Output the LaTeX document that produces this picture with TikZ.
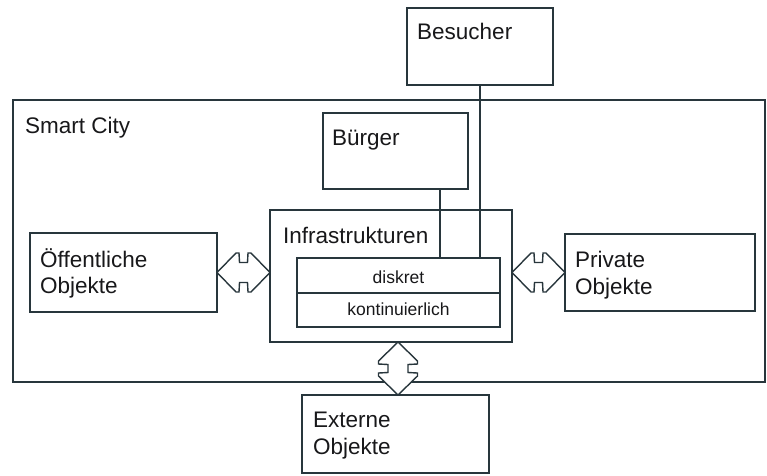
\documentclass[tikz,border=0pt]{standalone}
\usepackage{fontspec}
\setmainfont{Liberation Sans}
\usetikzlibrary{calc}
\definecolor{ink}{RGB}{40,54,60}
\definecolor{txt}{RGB}{24,24,26}
\tikzset{
  box/.style={draw=ink, line width=2pt, fill=white, inner sep=0pt, outer sep=0pt},
  bigtext/.style={text=txt, inner sep=0pt, anchor=base west, font=\fontsize{22.5}{26}\selectfont},
  smalltext/.style={text=txt, inner sep=0pt, anchor=base, font=\fontsize{17.5}{20}\selectfont},
  link/.style={draw=ink, line width=1.6pt},
  arrowbox/.style={draw=ink, line width=1.4pt, fill=white, line join=miter},
}
% double-headed block arrow: start point, direction angle, length
\newcommand\blockarrow[3]{%
  \draw[arrowbox, shift={#1}, rotate=#2]
    (0,0) -- (19,-19.5) -- (22,-19.5) -- (22.5,-10) -- (#3-22.5,-10)
    -- (#3-22,-19.5) -- (#3-19,-19.5) -- (#3,0) -- (#3-19,19.5)
    -- (#3-22,19.5) -- (#3-22.5,10) -- (22.5,10) -- (22,19.5) -- (19,19.5) -- cycle;}
\begin{document}
\begin{tikzpicture}[x=1pt,y=-1pt]
\useasboundingbox (0,0) rectangle (767,475);

% boxes
\node[box, minimum width=146pt, minimum height=77pt] (besucher) at (480,46.5) {};
\node[box, minimum width=752pt, minimum height=282pt] (city) at (389,241) {};
\node[box, minimum width=145pt, minimum height=76pt] (buerger) at (395.5,151) {};
\node[box, minimum width=242pt, minimum height=132pt] (infra) at (391,276) {};
\node[box, minimum width=203pt, minimum height=35pt] (diskret) at (398.5,275.5) {};
\node[box, minimum width=203pt, minimum height=34pt] (kont) at (398.5,310) {};
\node[box, minimum width=187pt, minimum height=79pt] (oeff) at (123.5,272.5) {};
\node[box, minimum width=190pt, minimum height=77pt] (private) at (660,272.5) {};
\node[box, minimum width=187pt, minimum height=78pt] (externe) at (395.5,434) {};

% labels
\node[bigtext] (tbesucher) at (417,39) {Besucher};
\node[bigtext] (tcity) at (25,133) {Smart City};
\node[bigtext] (tbuerger) at (332,145) {Bürger};
\node[bigtext] (tinfra) at (283,243) {Infrastrukturen};
\node[bigtext] (toeff1) at (40,267) {Öffentliche};
\node[bigtext] (toeff2) at (40,293) {Objekte};
\node[bigtext] (tpriv1) at (575,267) {Private};
\node[bigtext] (tpriv2) at (575,294) {Objekte};
\node[bigtext] (text1) at (313,427) {Externe};
\node[bigtext] (text2) at (313,454) {Objekte};
\node[smalltext] (tdiskret) at (398.5,283) {diskret};
\node[smalltext] (tkont) at (398.5,315) {kontinuierlich};

% connectors from the actors to the infrastructure
\draw[link] ([xshift=44.5pt]buerger.south) -- ([xshift=44.5pt]buerger.south |- diskret.north);
\draw[link] (besucher.south) -- (besucher.south |- diskret.north);

% exchange arrows
\blockarrow{(oeff.east)}{0}{53}
\blockarrow{(infra.east |- private.west)}{0}{53}
\blockarrow{($(externe.north |- infra.south)+(2.5,0)$)}{-90}{53}
\end{tikzpicture}
\end{document}
